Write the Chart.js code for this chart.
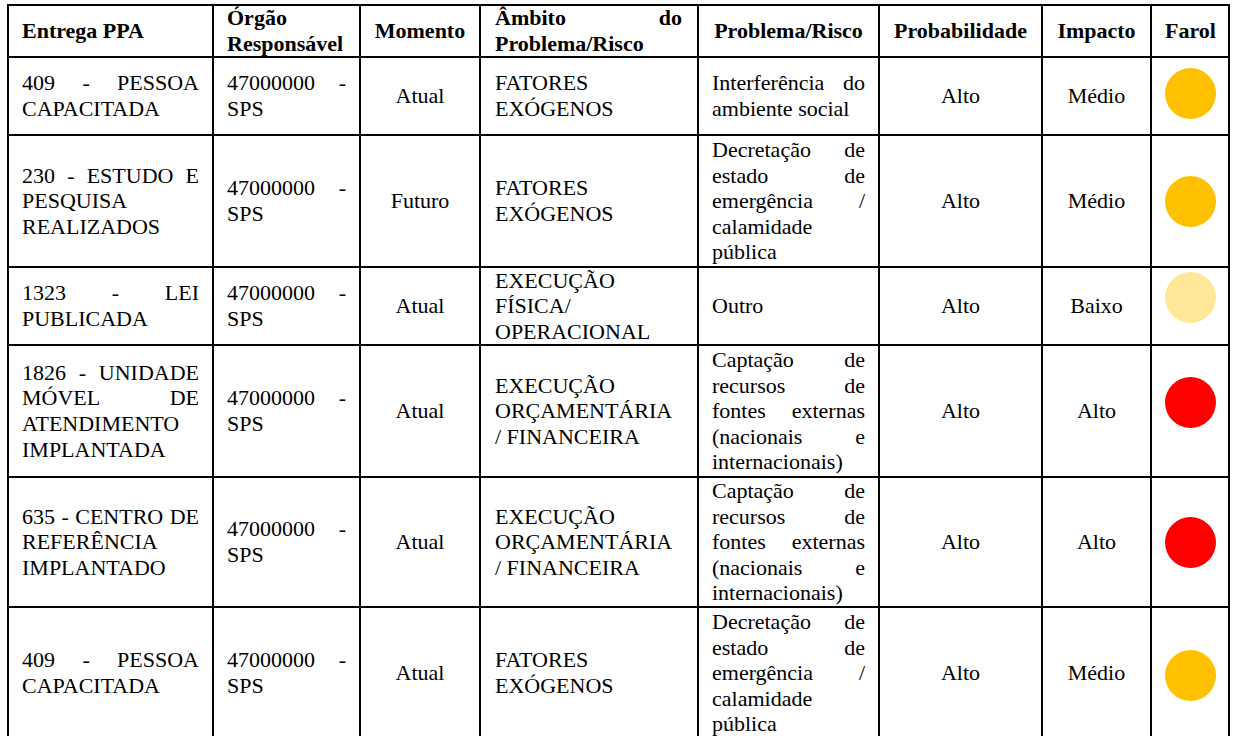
<!DOCTYPE html>
<html lang="pt-BR">
<head>
<meta charset="utf-8">
<script src="https://cdn.jsdelivr.net/npm/chart.js@4/dist/chart.umd.min.js"></script>
<style>
  html, body { margin: 0; padding: 0; background: #fff; }
  body { width: 1233px; height: 736px; overflow: hidden; position: relative; }
  #grid {
    position: absolute; left: 7px; top: 4px;
    display: grid; gap: 2px; padding: 2px; background: #000;
    font-family: "Liberation Serif", "Times New Roman", serif;
    font-size: 22px; line-height: 25.6px; color: #000;
  }
  .cell {
    background: #fff; display: flex; align-items: center;
    padding: 0 13px; overflow: hidden; box-sizing: border-box;
  }
  .cell > div { width: 100%; text-align: justify; }
  .h > div { font-weight: bold; }
  .c > div { text-align: center; }
  .l > div { text-align: left; }
  .amb { padding-left: 14px; padding-right: 15px; }
  .farol { padding: 0; justify-content: center; }
  .farol canvas { display: block; }
</style>
</head>
<body>
<div id="grid"></div>
<script>
// ---- Dados ----
const cabecalhos = ['Entrega PPA', 'Órgão Responsável', 'Momento', 'Âmbito do Problema/Risco', 'Problema/Risco', 'Probabilidade', 'Impacto', 'Farol'];
const entregas = ['409 - PESSOA CAPACITADA', '230 - ESTUDO E PESQUISA REALIZADOS', '1323 - LEI PUBLICADA', '1826 - UNIDADE MÓVEL DE ATENDIMENTO IMPLANTADA', '635 - CENTRO DE REFERÊNCIA IMPLANTADO', '409 - PESSOA CAPACITADA'];
const orgaos = ['47000000 - SPS', '47000000 - SPS', '47000000 - SPS', '47000000 - SPS', '47000000 - SPS', '47000000 - SPS'];
const momentos = ['Atual', 'Futuro', 'Atual', 'Atual', 'Atual', 'Atual'];
const ambitos = ['FATORES EXÓGENOS', 'FATORES EXÓGENOS', 'EXECUÇÃO FÍSICA/ OPERACIONAL', 'EXECUÇÃO ORÇAMENTÁRIA / FINANCEIRA', 'EXECUÇÃO ORÇAMENTÁRIA / FINANCEIRA', 'FATORES EXÓGENOS'];
const problemas = ['Interferência do ambiente social', 'Decretação de estado de emergência / calamidade pública', 'Outro', 'Captação de recursos de fontes externas (nacionais e internacionais)', 'Captação de recursos de fontes externas (nacionais e internacionais)', 'Decretação de estado de emergência / calamidade pública'];
const probabilidades = ['Alto', 'Alto', 'Alto', 'Alto', 'Alto', 'Alto'];
const impactos = ['Médio', 'Médio', 'Baixo', 'Alto', 'Alto', 'Médio'];
const farol = ['amarelo', 'amarelo', 'amareloClaro', 'vermelho', 'vermelho', 'amarelo'];

// ---- Estilos / layout ----
const coresFarol = { amarelo: '#FFC000', amareloClaro: '#FFE699', vermelho: '#FF0000' };
const largurasColunas = [203, 145, 118, 216, 179, 161, 107, 76];
const alturaCabecalho = 50;
const alturasLinhas = [76, 130, 76, 130, 128, 130];
const deslocFarol = [-3, 0, -9, -9, 0, 2];
const alinhCab = ['l', '', 'c', 'amb', 'c', 'c', 'c', 'c'];

const grid = document.getElementById('grid');
grid.style.gridTemplateColumns = largurasColunas.map(w => w + 'px').join(' ');
grid.style.gridTemplateRows = [alturaCabecalho].concat(alturasLinhas).map(h => h + 'px').join(' ');

function addCell(text, cls) {
  const d = document.createElement('div');
  d.className = 'cell ' + (cls || '');
  const inner = document.createElement('div');
  inner.textContent = text;
  d.appendChild(inner);
  grid.appendChild(d);
}

cabecalhos.forEach((h, i) => addCell(h, 'h ' + alinhCab[i]));

const canvases = [];
entregas.forEach((e, i) => {
  addCell(e, '');
  addCell(orgaos[i], '');
  addCell(momentos[i], 'c');
  addCell(ambitos[i], 'amb');
  addCell(problemas[i], '');
  addCell(probabilidades[i], 'c');
  addCell(impactos[i], 'c');
  const d = document.createElement('div');
  d.className = 'cell farol';
  const cv = document.createElement('canvas');
  cv.width = 51; cv.height = 51;
  cv.style.transform = 'translateY(' + deslocFarol[i] + 'px)';
  d.appendChild(cv);
  grid.appendChild(d);
  canvases.push(cv);
});

canvases.forEach((cv, i) => {
  new Chart(cv, {
    type: 'pie',
    data: {
      labels: [farol[i]],
      datasets: [{ data: [1], backgroundColor: [coresFarol[farol[i]]], borderWidth: 0 }]
    },
    options: {
      responsive: false,
      animation: false,
      events: [],
      layout: { padding: 0 },
      plugins: { legend: { display: false }, tooltip: { enabled: false } }
    }
  });
});
</script>
</body>
</html>
